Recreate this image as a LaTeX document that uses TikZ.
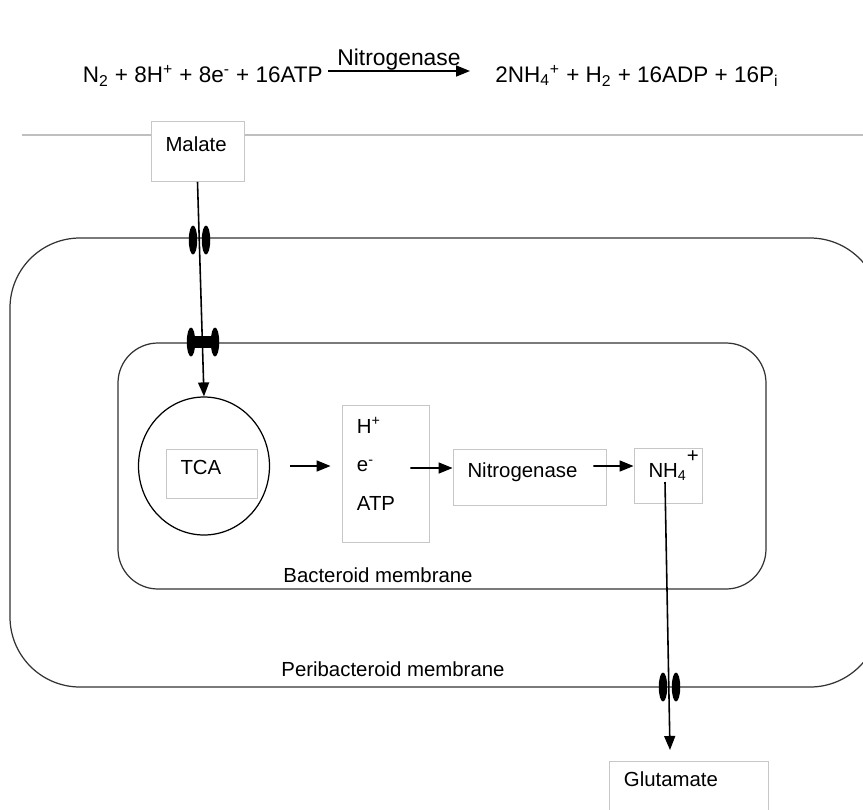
\documentclass[tikz,border=0pt]{standalone}
\usepackage{fontspec}
\setmainfont{Liberation Sans}
\usetikzlibrary{shapes.geometric}
\usetikzlibrary{positioning}
\usetikzlibrary{arrows.meta}

\begin{document}
\begin{tikzpicture}[x=0.02cm,y=-0.02cm,
      font=\fontsize{11.6}{13.9}\selectfont,
      every node/.style={inner sep=0pt},
      membrane/.style={line width=0.7pt,draw=black!80},
      box/.style={draw=black!22,fill=white,line width=0.5pt,align=left,inner xsep=0.29cm},
      eqn/.style={font=\fontsize{12.8}{15}\selectfont},
      flow/.style={line width=0.9pt,-{Triangle[length=0.28cm,width=0.22cm]}},
      chan/.style={ellipse,fill=black,minimum width=0.17cm,minimum height=0.58cm},
      ]
  \useasboundingbox (0,0) rectangle (863,809);
  \clip (0,0) rectangle (863,809);
  \node[eqn,anchor=east] (eqleft) at (323,76)
    {N\textsubscript{2} + 8H\textsuperscript{+} + 8e\textsuperscript{-} + 16ATP};
  \node[eqn,anchor=west] (eqright) at (495,76)
    {2NH\textsubscript{4}\textsuperscript{+} + H\textsubscript{2} + 16ADP + 16P\textsubscript{i}};
  \draw[flow] ([shift={(0.1cm,0.1cm)}]eqleft.east) --
    node[above=0cm,font=\fontsize{13}{15}\selectfont] (eqlabel) {Nitrogenase}
    ([shift={(-0.5cm,0.1cm)}]eqright.west);
  \draw[black!25,line width=0.6pt] (22,135) -- (863,135);
  \node[box,text width=1.28cm,minimum height=1.2cm,text depth=0.28cm] (malate) at (197.5,151.5) {Malate};
  \draw[membrane,rounded corners=1.4cm] (10,238) rectangle (880,687);
  \draw[membrane,rounded corners=0.8cm] (118,343) rectangle (766,589);
  \node[chan] (outa) at (193,240) {};
  \node[chan] (outb) at (206,240) {};
  \node[chan] (ina) at (191,342) {};
  \node[chan] (inb) at (215,342) {};
  \fill ([yshift=0.12cm]ina.center) rectangle ([yshift=-0.12cm]inb.center);
  \node[chan] (exita) at (663,687) {};
  \node[chan] (exitb) at (676,687) {};
  \node[draw,ellipse,line width=0.7pt,minimum width=2.62cm,minimum height=2.76cm] (cycle) at (204,466) {};
  \node[box,text width=1.24cm,minimum height=0.98cm,text depth=0.24cm] (tca) at (211.5,473.5) {TCA};
  \node[box,minimum width=1.74cm,minimum height=2.74cm] (cofac) at (385.5,473.5) {};
  \node[anchor=north west,align=left,font=\fontsize{11.6}{22}\selectfont] (cofactext)
    at ([shift={(0.3cm,-0.25cm)}]cofac.north west) {H\textsuperscript{+}\\e\textsuperscript{-}\\ATP};
  \node[box,text width=2.48cm,minimum height=1.12cm,text depth=0.28cm] (nase) at (529.5,477) {Nitrogenase};
  \node[box,text width=0.78cm,minimum height=1.1cm,text depth=0.22cm] (ammon) at (668,475.5)
    {NH\textsubscript{4}\smash{\raisebox{0.3cm}{+}}};
  \node[box,anchor=north west,text width=2.6cm,text height=0.3cm,text depth=1cm,inner ysep=0.2cm] (glut) at (609,761) {Glutamate};
  \draw[flow] (malate.south) -- (cycle.north);
  \draw[flow] ([shift={(0.4cm,0cm)}]cycle.east) -- ([shift={(-0.22cm,0.15cm)}]cofac.west);
  \draw[flow] ([shift={(-0.38cm,0.11cm)}]cofac.east) -- ([yshift=0.18cm]nase.west);
  \draw[flow] ([shift={(-0.26cm,0.22cm)}]nase.east) -- ([yshift=0.19cm]ammon.west);
  \draw[flow] ([shift={(-0.06cm,-0.13cm)}]ammon.center) -- ([shift={(1.22cm,0.22cm)}]glut.north west);
  \node (bactlabel) at (378,575) {Bacteroid membrane};
  \node (perilabel) at (393,669) {Peribacteroid membrane};
\end{tikzpicture}
\end{document}
